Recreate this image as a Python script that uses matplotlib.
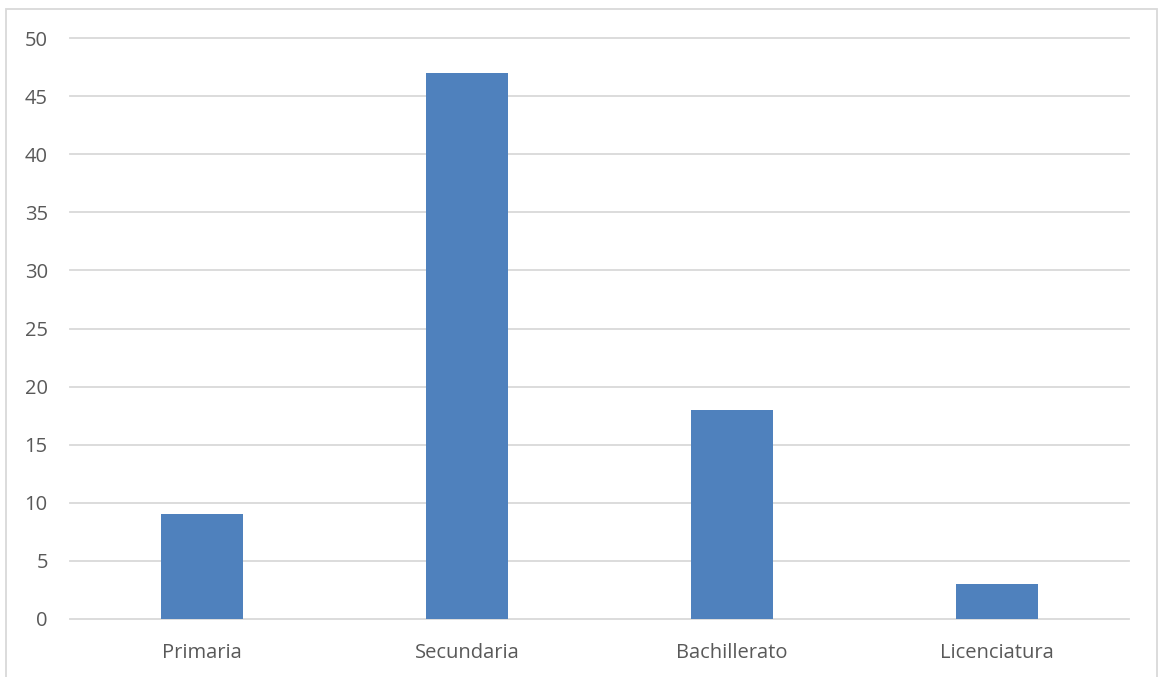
import matplotlib
matplotlib.use("Agg")
import matplotlib.pyplot as plt
from matplotlib.patches import Rectangle

categories = ["Primaria", "Secundaria", "Bachillerato", "Licenciatura"]
values = [9, 47, 18, 3]
yticks = [0, 5, 10, 15, 20, 25, 30, 35, 40, 45, 50]

W, H = 1160, 677
fig = plt.figure(figsize=(W / 100, H / 100), dpi=100)
plt.rcParams['font.family'] = ['Open Sans', 'DejaVu Sans']

# outer chart border
fig.patches.append(Rectangle((6 / W, -0.05), (1157 - 6) / W, 1 - 9 / H + 0.05,
                             transform=fig.transFigure, fill=False,
                             edgecolor='#d9d9d9', linewidth=1.3))

ax = fig.add_axes([70 / W, 1 - 619 / H, (1129 - 70) / W, (619 - 38) / H])
x = range(len(categories))
ax.bar(x, values, width=0.31, color='#4f81bd', zorder=3)
ax.set_xlim(-0.5, len(categories) - 0.5)
ax.set_ylim(0, 50)
ax.set_yticks(yticks)
ax.set_xticks(list(x))
ax.set_xticklabels(categories)
ax.grid(axis='y', color='#d9d9d9', linewidth=1.3, zorder=0)
for gl in ax.get_ygridlines():
    gl.set_clip_on(False)
for s in ax.spines.values():
    s.set_visible(False)
ax.tick_params(axis='both', length=0, labelsize=14.5, labelcolor='#595959')
ax.tick_params(axis='y', pad=16)
ax.tick_params(axis='x', pad=17)

fig.savefig("out.png", dpi=100)
